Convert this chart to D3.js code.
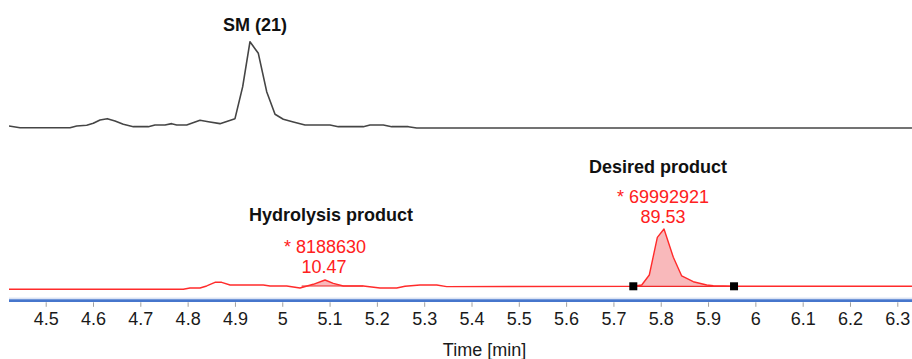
<!DOCTYPE html>
<html>
<head>
<meta charset="utf-8">
<script src="https://cdn.jsdelivr.net/npm/d3@7"></script>
<style>
  html, body { margin: 0; padding: 0; background: #fff; }
  svg { display: block; font-family: "Liberation Sans", Arial, sans-serif; }
</style>
</head>
<body>
<svg id="chart" width="912" height="359"></svg>
<script>
// ---- Data (retention time in min, relative intensity %) ----
const smTimes = [4.4224, 4.4457, 4.5514, 4.5655, 4.5867, 4.6006, 4.6148, 4.6302, 4.6465, 4.6640,
  4.6852, 4.7169, 4.7310, 4.7522, 4.7663, 4.7769, 4.7980, 4.8261, 4.8437, 4.8684,
  4.9001, 4.9164, 4.9318, 4.9494, 4.9671, 4.9847, 5.0022, 5.0234, 5.0481, 5.1009,
  5.1185, 5.1713, 5.1855, 5.2136, 5.2313, 5.2664, 5.2842, 6.3310];
const smValues = [2.0, 0, 0, 2.0, 2.8, 5.1, 9.0, 10.5, 7.8, 4.0,
  1.2, 1.2, 3.1, 3.1, 4.7, 3.1, 3.1, 8.6, 7.0, 4.7,
  10.5, 47.7, 100, 86.5, 41.9, 15.6, 9.8, 6.6, 3.1, 3.1,
  1.2, 1.2, 3.1, 3.1, 1.2, 1.2, -0.3, -0.3];

const prodTimes = [4.4224, 4.7908, 4.8050, 4.8261, 4.8403, 4.8578, 4.8720, 4.8896, 4.9599, 4.9741,
  5.0094, 5.0375, 5.0656, 5.0904, 5.1079, 5.1290, 5.1713, 5.2066, 5.2419, 5.2595,
  5.2912, 5.3265, 5.3476, 5.7420, 5.7598, 5.7758, 5.7928, 5.8069, 5.8266, 5.8443,
  5.8688, 5.8972, 5.9111, 5.9549, 6.3310];
const prodValues = [0, 0, 2.2, 2.2, 5.5, 11.6, 11.6, 7.1, 7.1, 5.5,
  5.5, 2.2, 8.3, 15.4, 9.9, 5.5, 5.5, 2.2, 2.2, 5.0,
  7.1, 7.1, 4.5, 5.0, 7.1, 23.7, 86.2, 100, 53.1, 22.1,
  12.6, 7.1, 6.0, 5.0, 5.0];

// integrated peaks: [start, end] times, baseline values
const peakNames = ["Hydrolysis product", "Desired product"];
const peakStart = [5.0411, 5.7420];
const peakEnd = [5.1713, 5.9549];
const peakBase = [5.5, 5.0];
const peakAreas = ["* 8188630", "* 69992921"];
const peakPercents = ["10.47", "89.53"];
const peakMarkers = [false, true];

const smLabel = "SM (21)";
const tickValues = [4.5, 4.6, 4.7, 4.8, 4.9, 5.0, 5.1, 5.2, 5.3, 5.4, 5.5, 5.6, 5.7, 5.8, 5.9, 6.0, 6.1, 6.2, 6.3];
const tickLabels = ["4.5", "4.6", "4.7", "4.8", "4.9", "5", "5.1", "5.2", "5.3", "5.4", "5.5", "5.6", "5.7", "5.8", "5.9", "6", "6.1", "6.2", "6.3"];
const axisTitle = "Time [min]";

// ---- Layout ----
const svg = d3.select("#chart");
const W = 912;
const plotLeft = 9;

const x = d3.scaleLinear().domain([4.5, 6.3]).range([45.7, 897.3]);
const yTop = d3.scaleLinear().domain([0, 100]).range([127.7, 41.7]);
const yProd = d3.scaleLinear().domain([0, 100]).range([289.3, 229]);

svg.append("defs").append("clipPath").attr("id", "plotclip")
  .append("rect").attr("x", plotLeft).attr("y", 0).attr("width", W - plotLeft).attr("height", 359);

const plot = svg.append("g").attr("clip-path", "url(#plotclip)");

// SM trace
const smData = smTimes.map((t, i) => [t, smValues[i]]);
plot.append("path")
  .datum(smData)
  .attr("fill", "none")
  .attr("stroke", "#454545")
  .attr("stroke-width", 1.6)
  .attr("stroke-linejoin", "round")
  .attr("d", d3.line().x(d => x(d[0])).y(d => yTop(d[1])));

// product trace
const prodData = prodTimes.map((t, i) => [t, prodValues[i]]);

function interp(t) {
  for (let i = 0; i < prodData.length - 1; i++) {
    const a = prodData[i], b = prodData[i + 1];
    if (t >= a[0] && t <= b[0]) {
      const f = (t - a[0]) / (b[0] - a[0]);
      return a[1] + f * (b[1] - a[1]);
    }
  }
  return prodData[prodData.length - 1][1];
}

// peak fills
peakNames.forEach((name, k) => {
  const s = peakStart[k], e = peakEnd[k];
  const pts = [[s, interp(s)]].concat(prodData.filter(d => d[0] > s && d[0] < e)).concat([[e, interp(e)]]);
  const area = d3.area()
    .x(d => x(d[0]))
    .y0(() => yProd(peakBase[k]))
    .y1(d => yProd(d[1]));
  plot.append("path").datum(pts)
    .attr("fill", "#f9b9bb")
    .attr("stroke", "none")
    .attr("d", area);
  plot.append("line")
    .attr("x1", x(s)).attr("x2", x(e))
    .attr("y1", yProd(peakBase[k])).attr("y2", yProd(peakBase[k]))
    .attr("stroke", "#f02a2a").attr("stroke-width", 1.2);
});

plot.append("path")
  .datum(prodData)
  .attr("fill", "none")
  .attr("stroke", "#ff2b2b")
  .attr("stroke-width", 1.4)
  .attr("stroke-linejoin", "round")
  .attr("d", d3.line().x(d => x(d[0])).y(d => yProd(d[1])));

// markers
peakNames.forEach((name, k) => {
  if (!peakMarkers[k]) return;
  [peakStart[k], peakEnd[k]].forEach(t => {
    plot.append("rect")
      .attr("x", x(t) - 4).attr("y", yProd(peakBase[k]) - 4)
      .attr("width", 8).attr("height", 8)
      .attr("fill", "#000");
  });
});

// axis lines
plot.append("line").attr("x1", plotLeft).attr("x2", W).attr("y1", 298.2).attr("y2", 298.2)
  .attr("stroke", "#cbd7ee").attr("stroke-width", 1);
plot.append("line").attr("x1", plotLeft).attr("x2", W).attr("y1", 300.6).attr("y2", 300.6)
  .attr("stroke", "#4676cc").attr("stroke-width", 2.6);

// x axis
const axis = d3.axisBottom(x)
  .tickValues(tickValues)
  .tickFormat((d, i) => tickLabels[i])
  .tickSize(4.5)
  .tickPadding(0);
const axG = plot.append("g").attr("transform", "translate(0,302.3)").call(axis);
axG.select(".domain").remove();
axG.selectAll(".tick line").attr("stroke", "#a0a0a0").attr("stroke-width", 1);
axG.selectAll(".tick text")
  .attr("dy", null)
  .attr("y", 22.7)
  .attr("font-size", 18)
  .attr("font-family", "Liberation Sans, Arial, sans-serif")
  .attr("fill", "#1a1a1a");

svg.append("text")
  .attr("x", 484.5).attr("y", 356)
  .attr("text-anchor", "middle")
  .attr("font-size", 18)
  .attr("fill", "#1a1a1a")
  .text(axisTitle);

// SM annotation
svg.append("text")
  .attr("x", x(4.9318) + 5).attr("y", 30.7)
  .attr("text-anchor", "middle")
  .attr("font-size", 18).attr("font-weight", "bold")
  .attr("fill", "#111")
  .text(smLabel);

// peak annotations
const annX = [[331, 325, 324], [658, 663, 663]];
const annY = [[220.5, 252.7, 272.7], [172.7, 202.7, 222.7]];
peakNames.forEach((name, k) => {
  svg.append("text")
    .attr("x", annX[k][0]).attr("y", annY[k][0])
    .attr("text-anchor", "middle")
    .attr("font-size", 18).attr("font-weight", "bold")
    .attr("fill", "#111")
    .text(name);
  svg.append("text")
    .attr("x", annX[k][1]).attr("y", annY[k][1])
    .attr("text-anchor", "middle")
    .attr("font-size", 18)
    .attr("fill", "#ff2020")
    .text(peakAreas[k]);
  svg.append("text")
    .attr("x", annX[k][2]).attr("y", annY[k][2])
    .attr("text-anchor", "middle")
    .attr("font-size", 18)
    .attr("fill", "#ff2020")
    .text(peakPercents[k]);
});
</script>
</body>
</html>
